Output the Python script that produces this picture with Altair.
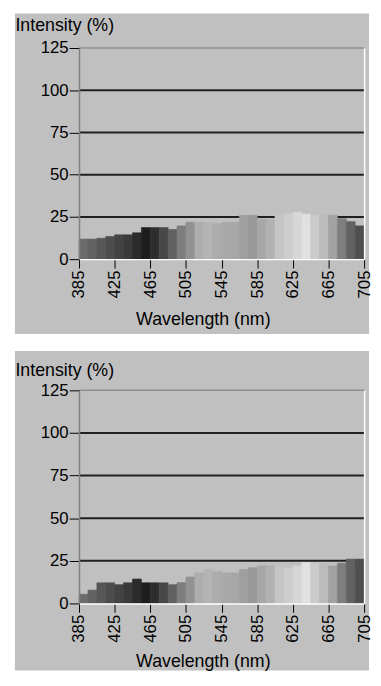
import altair as alt
import pandas as pd

# Wavelength bins (nm), each 10 nm wide
wl_start = [385, 395, 405, 415, 425, 435, 445, 455, 465, 475, 485, 495, 505, 515, 525, 535,
            545, 555, 565, 575, 585, 595, 605, 615, 625, 635, 645, 655, 665, 675, 685, 695]
bin_width = 10

# Intensity (%) per bin
intensity_top = [11.9, 11.9, 12.4, 13.4, 14.4, 14.4, 15.6, 18.7, 18.7, 18.7, 17.6, 19.7, 21.9, 21.9, 21.9, 21.1,
                 21.9, 21.9, 26.0, 26.0, 23.6, 23.3, 26.3, 26.8, 27.7, 26.6, 26.0, 26.0, 26.0, 24.0, 22.2, 19.7]
intensity_bottom = [5.4, 7.8, 12.1, 12.1, 11.0, 12.1, 14.3, 12.1, 12.1, 12.1, 11.0, 12.2, 15.5, 18.0, 19.9, 18.8,
                    17.9, 17.9, 19.9, 21.0, 22.1, 22.1, 21.6, 20.7, 22.0, 24.0, 23.8, 23.2, 22.0, 23.6, 26.0, 26.0]

# Gray shade of each bin
bar_gray = ["#6b6b6b", "#626262", "#575757", "#4c4c4c", "#434343", "#3a3a3a", "#2b2b2b", "#1d1d1d",
            "#2d2d2d", "#474747", "#616161", "#7e7e7e", "#929292", "#adadad", "#b4b4b4", "#acacac",
            "#a9a9a9", "#a7a7a7", "#9f9f9f", "#999999", "#a7a7a7", "#b1b1b1", "#c5c5c5", "#cdcdcd",
            "#d7d7d7", "#e1e1e1", "#cbcbcb", "#bbbbbb", "#a2a2a2", "#7e7e7e", "#626262", "#4f4f4f"]

x_ticks = [385, 425, 465, 505, 545, 585, 625, 665, 705]
y_ticks = [0, 25, 50, 75, 100, 125]
# horizontal lines: gridlines plus the top frame line
line_levels = [25, 50, 75, 100, 125]
line_colors = ["#202020", "#202020", "#202020", "#202020", "#909090"]
line_widths = [2, 2, 2, 2, 1.5]

BG = "#c0c0c0"
FONT = "Liberation Sans"
PLOT_W = 289


def panel(values, plot_h, bg_top, bg_bottom, ytitle_y, xtitle_y):
    df = pd.DataFrame({
        "start": wl_start,
        "end": [s + bin_width for s in wl_start],
        "val": values,
        "gray": bar_gray,
    })
    xs = alt.Scale(domain=[385, 705], nice=False, zero=False)
    ys = alt.Scale(domain=[0, 125], nice=False)

    bg = alt.Chart(pd.DataFrame({"k": [0]})).mark_rect(color=BG).encode(
        x=alt.value(-65), x2=alt.value(PLOT_W + 5),
        y=alt.value(bg_top), y2=alt.value(bg_bottom),
    )

    lines = alt.Chart(pd.DataFrame({"g": line_levels, "c": line_colors, "w": line_widths})).mark_rule().encode(
        y=alt.Y("g:Q", scale=ys, axis=alt.Axis(
            orient="right", labels=False, ticks=False, title=None, grid=False,
            domainColor="#ffffff", domainWidth=1.5, zindex=1)),
        color=alt.Color("c:N", scale=None),
        strokeWidth=alt.StrokeWidth("w:Q", scale=None),
    )

    bars = alt.Chart(df).mark_rect(strokeWidth=0.6).encode(
        x=alt.X("start:Q", scale=xs, axis=alt.Axis(
            orient="bottom", values=x_ticks, labelAngle=-90, labelFlush=False,
            labelOverlap=False, labelPadding=2, tickSize=9, tickColor="#000000",
            labelFont=FONT, labelFontSize=17, labelColor="#000000",
            domainColor="#ffffff", domainWidth=1.5, grid=False,
            title="Wavelength (nm)", titleFont=FONT, titleFontSize=18,
            titleFontWeight="normal", titleColor="#000000",
            titleAlign="center", titleBaseline="alphabetic",
            titleX=125.5, titleY=xtitle_y, zindex=1)),
        x2="end:Q",
        y=alt.Y("val:Q", scale=ys, axis=alt.Axis(
            orient="left", values=y_ticks, labelPadding=1, tickSize=10,
            tickColor="#000000", labelFont=FONT, labelFontSize=17,
            labelColor="#000000", domainColor="#808080", domainWidth=1.5,
            grid=False, title="Intensity (%)", titleFont=FONT, titleFontSize=18,
            titleFontWeight="normal", titleColor="#000000", titleAngle=0,
            titleAlign="left", titleBaseline="alphabetic",
            titleX=-65, titleY=ytitle_y, zindex=1)),
        y2=alt.datum(0),
        color=alt.Color("gray:N", scale=None),
        stroke=alt.Color("gray:N", scale=None),
    )

    return alt.layer(bg, lines, bars).resolve_axis(
        x="independent", y="independent"
    ).properties(width=PLOT_W, height=plot_h)


p1 = panel(intensity_top, 214, -35, 290, -18, 66)
p2 = panel(intensity_bottom, 216, -40, 284, -15, 64)

chart = alt.vconcat(p1, p2, spacing=15).properties(
    padding={"left": 6, "top": 0, "right": 0, "bottom": 0}
).configure_view(stroke="transparent")

chart.save("out.html", embed_options={"renderer": "svg", "actions": False})
